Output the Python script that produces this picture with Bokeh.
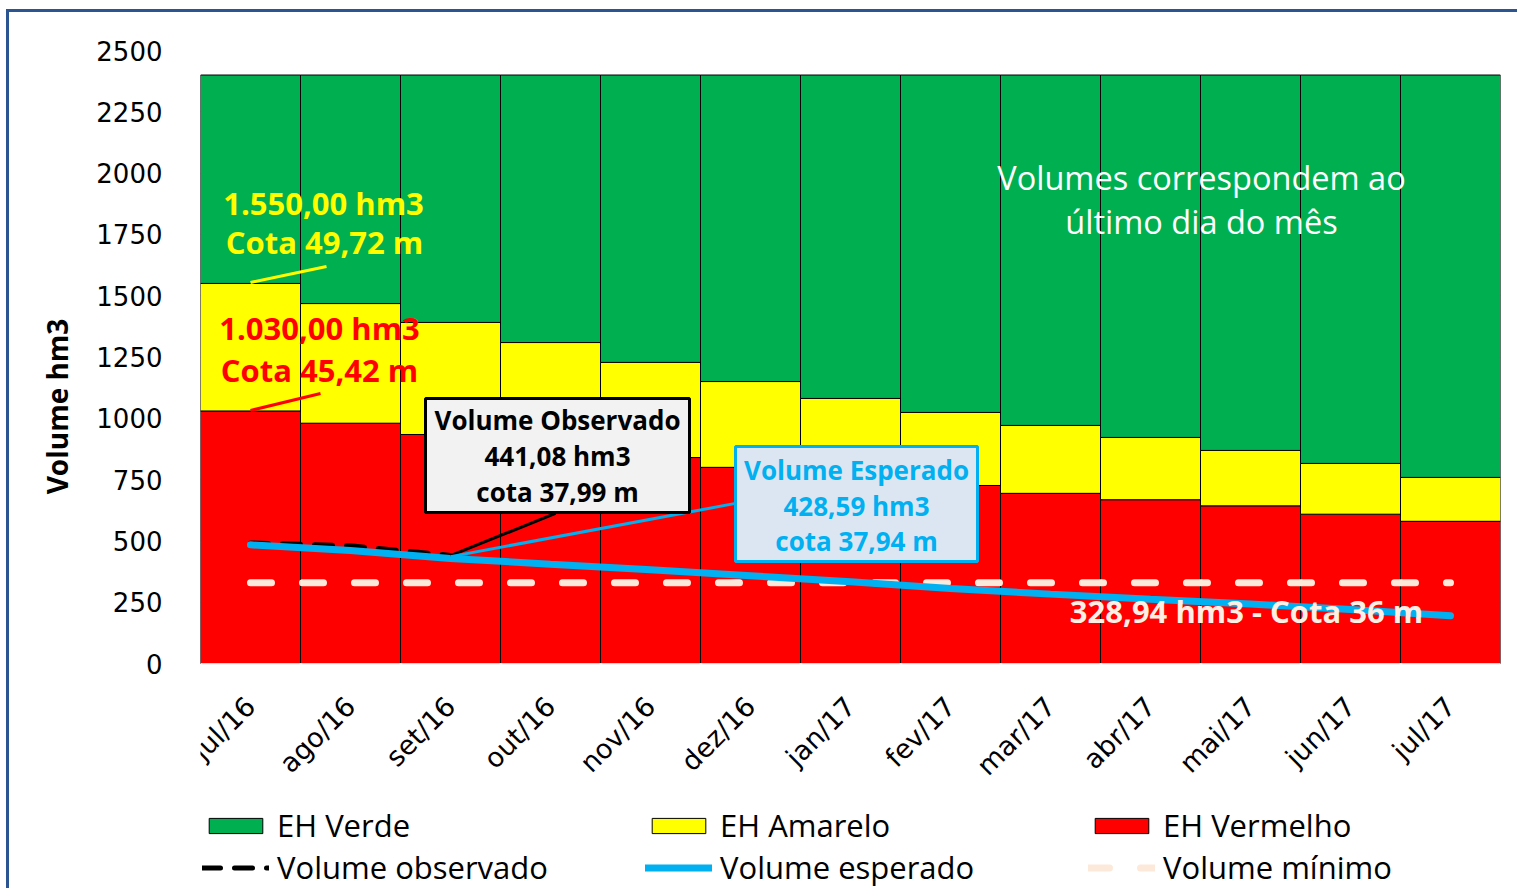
import numpy as np
from bokeh.plotting import figure
from bokeh.models import (Range1d, FixedTicker, Legend, LegendItem, Label, BoxAnnotation)
from bokeh.embed import file_html
from bokeh.resources import INLINE

# ---------------- data ----------------
months = ["jul/16", "ago/16", "set/16", "out/16", "nov/16", "dez/16", "jan/17",
          "fev/17", "mar/17", "abr/17", "mai/17", "jun/17", "jul/17"]
eh_vermelho = [1030, 980, 934, 885, 840, 800, 762, 726, 694, 668, 643, 609, 580]
eh_amarelo = [1550, 1468, 1391, 1309, 1228, 1150, 1081, 1024, 971, 922, 869, 816, 759]
eh_verde = [2400, 2400, 2400, 2400, 2400, 2400, 2400, 2400, 2400, 2400, 2400, 2400, 2400]
vol_observado = [492, 480, 441.08]
vol_esperado = [484, 461, 428.59, 405, 382, 358, 333, 306, 283, 262, 243, 220, 195]
vol_minimo = [328.94, 328.94, 328.94, 328.94, 328.94, 328.94, 328.94,
              328.94, 328.94, 328.94, 328.94, 328.94, 328.94]
y_ticks = [0, 250, 500, 750, 1000, 1250, 1500, 1750, 2000, 2250, 2500]

x = list(range(len(months)))

# the frame reaches down to the legend area; the value axis keeps 613 px for 0..2500
p = figure(frame_width=1300, frame_height=838, x_range=Range1d(-0.5, len(months) - 0.5),
           y_range=Range1d(-917.5, 2500), output_backend="svg", toolbar_location=None,
           min_border_left=191, min_border_right=17, min_border_top=38, min_border_bottom=0)
p.styles = {"border-left": "3px solid #2A5590", "border-top": "3px solid #2A5590",
            "margin-left": "6px", "margin-top": "9px"}
p.outline_line_color = None

red = p.vbar(x=x, bottom=0, top=eh_vermelho, width=1.0, fill_color="#FF0000",
             line_color="black", line_width=1)
yellow = p.vbar(x=x, bottom=eh_vermelho, top=eh_amarelo, width=1.0, fill_color="#FFFF00",
                line_color="black", line_width=1)
green = p.vbar(x=x, bottom=eh_amarelo, top=eh_verde, width=1.0, fill_color="#00B050",
               line_color="black", line_width=1)

minl = p.line(x, vol_minimo, line_color="#FDE9D9", line_width=7, line_dash="21 31",
              line_cap="round")
obs = p.line(x[:len(vol_observado)], vol_observado, line_color="black", line_width=5,
             line_dash="18 14", line_cap="round")
esp = p.line(x, vol_esperado, line_color="#00B0F0", line_width=7, line_cap="round")

# leader lines of the annotations
p.segment(x0=[0.0], y0=[1554], x1=[0.76], y1=[1619], line_color="#FFFF00", line_width=3)
p.segment(x0=[0.0], y0=[1032], x1=[0.70], y1=[1101], line_color="#FF0000", line_width=3)
p.segment(x0=[2.0], y0=[440], x1=[3.05], y1=[612], line_color="black", line_width=3)
p.segment(x0=[2.0], y0=[436], x1=[4.85], y1=[653], line_color="#00B0F0", line_width=3)

# ---------------- axes ----------------
p.yaxis.ticker = FixedTicker(ticks=y_ticks)
p.yaxis.major_label_text_font = "DejaVu Sans"
p.yaxis.major_label_text_font_size = "26px"
p.yaxis.major_label_text_color = "black"
p.yaxis.axis_line_color = None
p.yaxis.major_tick_line_color = None
p.yaxis.minor_tick_line_color = None
p.yaxis.major_label_standoff = 32
p.yaxis.axis_label = "\u2003\u2003\u2003\u2003\u2002Volume hm3"
p.yaxis.axis_label_text_font = "Open Sans"
p.yaxis.axis_label_text_font_style = "bold"
p.yaxis.axis_label_text_font_size = "28px"
p.yaxis.axis_label_text_color = "black"
p.yaxis.axis_label_standoff = 17

p.xaxis.fixed_location = 0
p.xaxis.ticker = FixedTicker(ticks=x)
p.xaxis.major_label_overrides = {i: m for i, m in enumerate(months)}
p.xaxis.major_label_orientation = np.pi / 4
p.xaxis.major_label_text_font = "DejaVu Sans"
p.xaxis.major_label_text_font_size = "27px"
p.xaxis.major_label_text_color = "black"
p.xaxis.axis_line_color = "#D9D9D9"
p.xaxis.major_tick_line_color = None
p.xaxis.minor_tick_line_color = None
p.xaxis.major_label_standoff = 32

p.xgrid.visible = False
p.ygrid.ticker = FixedTicker(ticks=y_ticks)
p.ygrid.grid_line_color = "#D9D9D9"

# ---------------- annotation boxes & texts ----------------
p.add_layout(BoxAnnotation(left=1.75, right=4.39, bottom=616, top=1081,
                           fill_color="#F2F2F2", fill_alpha=1.0,
                           line_color="black", line_width=3, line_alpha=1.0))
p.add_layout(BoxAnnotation(left=4.85, right=7.27, bottom=416, top=885,
                           fill_color="#DCE6F2", fill_alpha=1.0,
                           line_color="#00B0F0", line_width=3, line_alpha=1.0))


def add_text(xv, yv, txt, color, size, bold=True):
    p.add_layout(Label(x=xv, y=yv, text=txt, text_align="center", text_baseline="middle",
                       text_font="Open Sans", text_font_size=size, text_color=color,
                       text_font_style="bold" if bold else "normal"))


add_text(0.73, 1880, "1.550,00 hm3", "#FFFF00", "31px")
add_text(0.74, 1717, "Cota 49,72 m", "#FFFF00", "31px")
add_text(0.69, 1370, "1.030,00 hm3", "#FF0000", "31px")
add_text(0.69, 1195, "Cota 45,42 m", "#FF0000", "31px")
add_text(3.07, 995, "Volume Observado", "black", "26px")
add_text(3.07, 848, "441,08 hm3", "black", "26px")
add_text(3.07, 701, "cota 37,99 m", "black", "26px")
add_text(6.06, 791, "Volume Esperado", "#00B0F0", "26px")
add_text(6.06, 644, "428,59 hm3", "#00B0F0", "26px")
add_text(6.06, 498, "cota 37,94 m", "#00B0F0", "26px")
add_text(9.51, 1982, "Volumes correspondem ao", "white", "32.5px", bold=False)
add_text(9.51, 1803, "último dia do mês", "white", "32.5px", bold=False)
add_text(9.96, 216, "328,94 hm3 - Cota 36 m", "#FDEFE3", "31px")

# ---------------- legend ----------------
legend = Legend(items=[
    LegendItem(label="EH Verde", renderers=[green]),
    LegendItem(label="EH Amarelo", renderers=[yellow]),
    LegendItem(label="EH Vermelho", renderers=[red]),
    LegendItem(label="Volume observado", renderers=[obs]),
    LegendItem(label="Volume esperado", renderers=[esp]),
    LegendItem(label="Volume mínimo", renderers=[minl]),
], location=(2, 0), orientation="horizontal", ncols=3,
    glyph_width=67, glyph_height=19, label_standoff=8, label_width=368,
    spacing=0, padding=0, margin=0, border_line_color=None,
    background_fill_alpha=0, label_text_font="Open Sans",
    label_text_font_size="31px", label_text_color="black")
p.add_layout(legend)

open("out.html", "w").write(file_html(p, INLINE))
